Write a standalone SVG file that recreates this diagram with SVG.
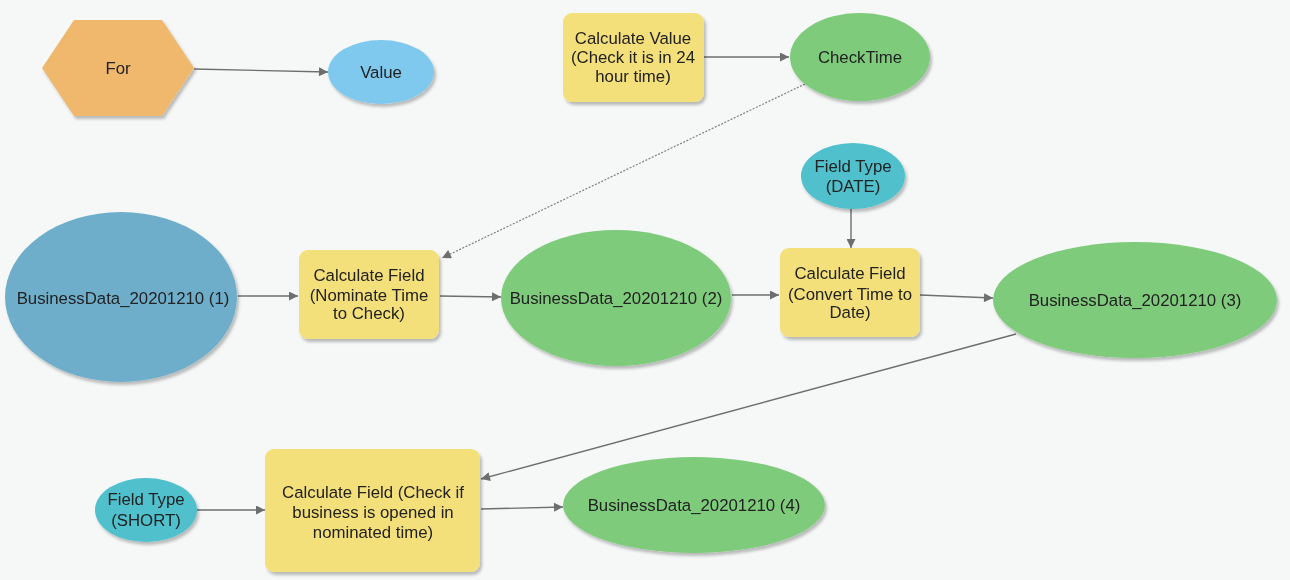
<svg xmlns="http://www.w3.org/2000/svg" width="1290" height="580" viewBox="0 0 1290 580">
<defs>
<style>
text{font-family:"Liberation Sans",Arial,sans-serif;font-size:16.8px;fill:#222;text-anchor:middle;dominant-baseline:central}
.c{stroke:#6e6e6e;stroke-width:1.4;fill:none}
.d{stroke:#808080;stroke-width:1.2;stroke-dasharray:2 1.5;fill:none}
.tool{fill:#f4e07a}
.out{fill:#7fcb7c}
.par{fill:#4fc0cc}
</style>
<filter id="sh" x="-10%" y="-10%" width="130%" height="130%">
<feDropShadow dx="2" dy="3" stdDeviation="1.5" flood-color="#000" flood-opacity="0.25"/>
</filter>
<marker id="ah" viewBox="0 0 10 10" refX="10" refY="5" markerWidth="11" markerHeight="9" markerUnits="userSpaceOnUse" orient="auto">
<path d="M0,0 L10,5 L0,10 z" fill="#6e6e6e"/>
</marker>
</defs>
<rect x="0" y="0" width="1290" height="580" fill="#f6f7f7"/>
<g id="connectors">
<line class="c" x1="194" y1="69" x2="328" y2="72" marker-end="url(#ah)"/>
<line class="c" x1="704" y1="57" x2="789" y2="57" marker-end="url(#ah)"/>
<line class="d" x1="805" y1="84" x2="442" y2="258" marker-end="url(#ah)"/>
<line class="c" x1="238" y1="296" x2="298" y2="296" marker-end="url(#ah)"/>
<line class="c" x1="440" y1="296" x2="501" y2="297" marker-end="url(#ah)"/>
<line class="c" x1="851" y1="208" x2="851" y2="248" marker-end="url(#ah)"/>
<line class="c" x1="732" y1="295" x2="779" y2="295" marker-end="url(#ah)"/>
<line class="c" x1="920" y1="295" x2="993" y2="298" marker-end="url(#ah)"/>
<line class="c" x1="1016" y1="334" x2="481" y2="479" marker-end="url(#ah)"/>
<line class="c" x1="197" y1="510" x2="265" y2="510" marker-end="url(#ah)"/>
<line class="c" x1="481" y1="509" x2="563" y2="507" marker-end="url(#ah)"/>
</g>
<g id="for" filter="url(#sh)">
<polygon points="42,68 74,20 162,20 194,68 162,116 74,116" fill="#f0b86c"/>
<text x="118" y="68">For</text>
</g>
<g id="value" filter="url(#sh)">
<ellipse cx="381" cy="72" rx="53" ry="32" fill="#7fc9ee"/>
<text x="381" y="72">Value</text>
</g>
<g id="calcValue" filter="url(#sh)">
<rect class="tool" x="563" y="13" width="141" height="89" rx="9"/>
<text x="633" y="38">Calculate Value</text>
<text x="633" y="57">(Check it is in 24</text>
<text x="633" y="76">hour time)</text>
</g>
<g id="checkTime" filter="url(#sh)">
<ellipse class="out" cx="860" cy="57" rx="70" ry="44"/>
<text x="860" y="57">CheckTime</text>
</g>
<g id="bd1" filter="url(#sh)">
<ellipse cx="121" cy="297" rx="116" ry="85" fill="#6eaecb"/>
<text x="123" y="298">BusinessData_20201210 (1)</text>
</g>
<g id="calcField1" filter="url(#sh)">
<rect class="tool" x="299" y="250" width="140" height="89" rx="9"/>
<text x="369" y="275">Calculate Field</text>
<text x="369" y="295">(Nominate Time</text>
<text x="369" y="313">to Check)</text>
</g>
<g id="bd2" filter="url(#sh)">
<ellipse class="out" cx="616" cy="298" rx="115" ry="68"/>
<text x="616" y="298">BusinessData_20201210 (2)</text>
</g>
<g id="fieldTypeDate" filter="url(#sh)">
<ellipse class="par" cx="853" cy="176" rx="52" ry="33"/>
<text x="853" y="166">Field Type</text>
<text x="853" y="186">(DATE)</text>
</g>
<g id="calcField2" filter="url(#sh)">
<rect class="tool" x="780" y="248" width="140" height="89" rx="9"/>
<text x="850" y="273">Calculate Field</text>
<text x="850" y="294">(Convert Time to</text>
<text x="850" y="312">Date)</text>
</g>
<g id="bd3" filter="url(#sh)">
<ellipse class="out" cx="1135" cy="300" rx="142" ry="58"/>
<text x="1135" y="300">BusinessData_20201210 (3)</text>
</g>
<g id="fieldTypeShort" filter="url(#sh)">
<ellipse class="par" cx="146" cy="510" rx="51" ry="32"/>
<text x="146" y="499">Field Type</text>
<text x="146" y="520">(SHORT)</text>
</g>
<g id="calcField3" filter="url(#sh)">
<rect class="tool" x="265" y="449" width="215" height="123" rx="9"/>
<text x="373" y="492">Calculate Field (Check if</text>
<text x="373" y="512">business is opened in</text>
<text x="373" y="532">nominated time)</text>
</g>
<g id="bd4" filter="url(#sh)">
<ellipse class="out" cx="694" cy="505" rx="131" ry="48"/>
<text x="694" y="505">BusinessData_20201210 (4)</text>
</g>
</svg>
